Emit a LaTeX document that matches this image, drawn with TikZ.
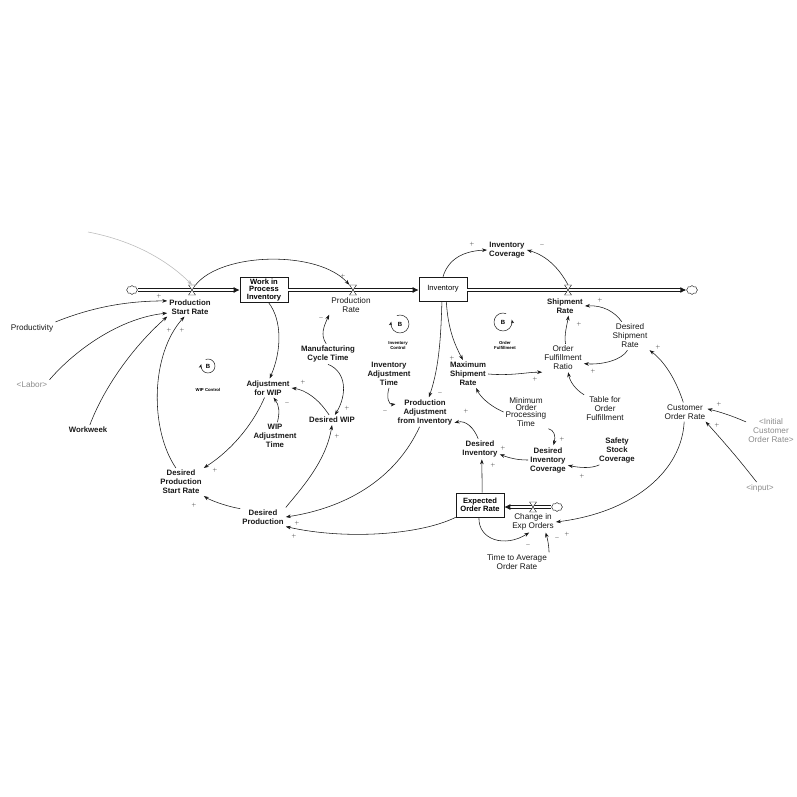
\documentclass[tikz,border=0pt]{standalone}
\usepackage{fontspec}
\setmainfont{Liberation Sans}
\usepackage{xcolor}
\usepackage{tikz}
\usetikzlibrary{arrows.meta,positioning,shapes.symbols}
\definecolor{ink}{RGB}{25,25,25}
\definecolor{shade}{RGB}{140,140,140}

\tikzset{
  var/.style={font=\bfseries\fontsize{7.8}{9}\selectfont,align=center,inner sep=2pt,text=ink},
  varn/.style={var,font=\fontsize{8.2}{9}\selectfont},
  ghost/.style={varn,text=shade},
  lvl/.style={draw=ink,line width=0.6pt,align=center,inner sep=1pt,minimum width=48pt,
    minimum height=24pt,font=\bfseries\fontsize{7.6}{7.8}\selectfont},
  lnk/.style={ink,line width=0.55pt,-{Stealth[length=5pt,width=3.6pt]}},
  pol/.style={font=\fontsize{5.5}{5.5}\selectfont,inner sep=0pt,text=ink},
  pipe/.style={ink,double=white,double distance=2pt,line width=0.9pt,-{Latex[length=6pt,width=6pt]}},
  vlv/.style={inner sep=0pt,minimum width=7pt,minimum height=10pt},
  puff/.style={cloud,cloud puffs=8,draw=ink,line width=0.4pt,minimum width=11pt,
    minimum height=9pt,inner sep=0pt},
  loopmark/.style={font=\bfseries\fontsize{6}{6}\selectfont,inner sep=0pt},
  looplbl/.style={font=\bfseries\fontsize{4.3}{5}\selectfont,align=center,inner sep=0pt},
  looparc/.style={ink,line width=0.5pt,-{Stealth[length=4pt,width=3pt]}},
  hourglass/.pic={\draw[ink,fill=white,line width=0.4pt] (-3.5pt,-5pt) -- (3.5pt,-5pt)
    -- (-3.5pt,5pt) -- (3.5pt,5pt) -- cycle;}
}

\begin{document}
\begin{tikzpicture}[x=1pt,y=-1pt]
  \useasboundingbox[fill=white] (0,0) rectangle (797,797);

  % stocks, flows
  \node[lvl] (wip) at (264,290) {Work in\\Process\\Inventory};
  \node[lvl,font=\fontsize{7.6}{8}\selectfont] (inv) at (443,289) {Inventory};
  \node[lvl] (eor) at (480,505) {Expected\\Order Rate};
  \node[puff] (c1) at (132,290) {};
  \node[puff] (c2) at (692,290) {};
  \node[puff] (c3) at (557,507) {};
  \node[vlv] (v1) at (192,290) {};
  \node[vlv] (v2) at (353,290) {};
  \node[vlv] (v3) at (568,290) {};
  \node[vlv] (v4) at (533,507) {};
  \draw[pipe] (c1.east) -- (wip.west);
  \draw[pipe] (wip.east) -- (inv.west |- wip.east);
  \draw[pipe] (inv.east |- c2.west) -- (c2.west);
  \draw[pipe] (c3.west) -- (eor.east |- c3.west);
  \foreach \v in {v1,v2,v3,v4} \pic at (\v) {hourglass};

  % auxiliaries
  \node[var] (psr) at (190,307) {Production\\Start Rate};
  \node[varn] (pr) at (351,305) {Production\\Rate};
  \node[var] (srate) at (565,306) {Shipment\\Rate};
  \node[var] (invcov) at (507,250) {Inventory\\Coverage};
  \node[varn] (dsr) at (630,336) {Desired\\Shipment\\Rate};
  \node[varn] (ofr) at (563,358) {Order\\Fulfillment\\Ratio};
  \node[var] (msr) at (468,374) {Maximum\\Shipment\\Rate};
  \node[varn] (tofr) at (605,409) {Table for\\Order\\Fulfillment};
  \node[varn] (cor) at (685,412) {Customer\\Order Rate};
  \node[ghost] (icor) at (771,431) {<Initial\\Customer\\Order Rate>};
  \node[ghost] (inp) at (760,488) {<input>};
  \node[varn,font=\fontsize{8.2}{7.2}\selectfont] (mopt) at (526,412) {Minimum\\Order\\Processing\\Time};
  \node[var] (dic) at (548,460) {Desired\\Inventory\\Coverage};
  \node[var] (ssc) at (617,450) {Safety\\Stock\\Coverage};
  \node[var] (dinv) at (480,449) {Desired\\Inventory};
  \node[varn] (ceo) at (533,522) {Change in\\Exp Orders};
  \node[varn] (taor) at (517,562) {Time to Average\\Order Rate};
  \node[var] (pafi) at (425,412) {Production\\Adjustment\\from Inventory};
  \node[var] (iat) at (389,374) {Inventory\\Adjustment\\Time};
  \node[var] (mct) at (328,354) {Manufacturing\\Cycle Time};
  \node[var] (dwip) at (332,420) {Desired WIP};
  \node[var] (adjwip) at (268,388) {Adjustment\\for WIP};
  \node[var] (wat) at (275,436) {WIP\\Adjustment\\Time};
  \node[var] (dpsr) at (181,482) {Desired\\Production\\Start Rate};
  \node[var] (dprod) at (263,517) {Desired\\Production};
  \node[varn] (prod) at (32,328) {Productivity};
  \node[ghost] (labor) at (32,385) {<Labor>};
  \node[var] (ww) at (88,430) {Workweek};
  \coordinate (fade) at (88,232);

  % links
  \draw[lnk,shade!60] (fade) .. controls (130,240) and (165,258) .. (v1.north);
  \draw[lnk] (prod.north east) .. controls (95,306) and (130,301) .. (psr.165);
  \draw[lnk] (labor.north east) .. controls (75,350) and (120,318) .. (psr.195);
  \draw[lnk] (ww.70) .. controls (105,385) and (135,345) .. (psr.south west);
  \draw[lnk] (dpsr.110) .. controls (150,430) and (150,355) .. (psr.240);
  \draw[lnk] (v1.north east) .. controls (222,252) and (318,250) .. (v2.north west);
  \draw[lnk] (wip.290) .. controls (282,320) and (282,350) .. (adjwip.80);
  \draw[lnk] (mct.100) .. controls (320,335) and (324,326) .. (pr.south west);
  \draw[lnk] (mct.south) .. controls (347,372) and (347,395) .. (dwip.60);
  \draw[lnk] (dwip.120) .. controls (318,398) and (305,390) .. (adjwip.east);
  \draw[lnk] (wat.80) .. controls (280,412) and (279,405) .. (adjwip.300);
  \draw[lnk] (adjwip.250) .. controls (255,420) and (235,448) .. (dpsr.north east);
  \draw[lnk] (dprod.160) .. controls (225,506) and (210,500) .. (dpsr.south east);
  \draw[lnk] (dprod.north east) .. controls (300,490) and (326,462) .. (dwip.south);
  \draw[lnk] (pafi.250) .. controls (395,480) and (345,508) .. (dprod.east);
  \draw[lnk] (eor.south west) .. controls (420,535) and (345,540) .. (dprod.south east);
  \draw[lnk] (inv.265) .. controls (441,330) and (440,365) .. (pafi.75);
  \draw[lnk] (inv.285) .. controls (448,330) and (455,345) .. (msr.110);
  \draw[lnk] (inv.north) .. controls (448,260) and (462,251) .. (invcov.west);
  \draw[lnk] (v3.north) .. controls (560,270) and (548,256) .. (invcov.east);
  \draw[lnk] (msr.east) .. controls (512,376) and (528,372) .. (ofr.south west);
  \draw[lnk] (ofr.80) .. controls (564,335) and (567,325) .. (srate.290);
  \draw[lnk] (dsr.120) .. controls (615,312) and (603,305) .. (srate.east);
  \draw[lnk] (dsr.260) .. controls (622,360) and (602,365) .. (ofr.345);
  \draw[lnk] (tofr.north west) .. controls (576,390) and (570,382) .. (ofr.290);
  \draw[lnk] (cor.100) .. controls (676,380) and (665,362) .. (dsr.south east);
  \draw[lnk] (icor.160) .. controls (730,415) and (720,412) .. (cor.8);
  \draw[lnk] (inp.120) .. controls (738,458) and (722,440) .. (cor.-25);
  \draw[lnk] (cor.265) .. controls (682,470) and (635,512) .. (ceo.east);
  \draw[lnk] (ssc.220) .. controls (595,467) and (586,469) .. (dic.345);
  \draw[lnk] (mopt.south east) .. controls (554,430) and (556,436) .. (dic.70);
  \draw[lnk] (mopt.west) .. controls (488,405) and (480,396) .. (msr.-60);
  \draw[lnk] (dic.west) .. controls (520,460) and (512,459) .. (dinv.-15);
  \draw[lnk] (dinv.100) .. controls (474,428) and (466,420) .. (pafi.-20);
  \draw[lnk] (eor.80) -- (dinv.-80);
  \draw[lnk] (iat.south) .. controls (386,398) and (389,405) .. (pafi.165);
  \draw[lnk] (eor.-95) .. controls (478,540) and (505,548) .. (ceo.250);
  \draw[lnk] (taor.north east) .. controls (549,548) and (548,540) .. (ceo.-40);

  % polarities
  \foreach \n/\p/\s in {1/{159,296}/+,2/{169,330}/+,3/{182,330}/+,4/{343,276}/+,
      5/{321,318}/-,6/{347,408}/+,7/{303,382}/+,8/{287,403}/-,9/{215,470}/+,
      10/{194,505}/+,11/{337,436}/+,12/{297,523}/+,13/{294,536}/+,14/{440,393}/-,
      15/{452,358}/+,16/{472,244}/+,17/{542,245}/-,18/{535,379}/+,19/{579,324}/+,
      20/{600,300}/+,21/{593,371}/+,22/{658,347}/+,23/{719,404}/+,24/{717,425}/+,
      25/{567,534}/+,26/{582,476}/+,27/{562,439}/+,28/{503,448}/+,29/{466,411}/+,
      30/{493,465}/+,31/{385,411}/-,32/{528,545}/-,33/{557,538}/-}
    \node[pol] (s\n) at (\p) {$\s$};

  % loops
  \node[loopmark] (lpw) at (208,366) {B};
  \draw[looparc] ([shift={(110:7pt)}]lpw.center) arc[start angle=110,end angle=-195,radius=7pt];
  \node[looplbl] (lpwt) at (208,390) {WIP Control};
  \node[loopmark] (lpi) at (400,324) {B};
  \draw[looparc] ([shift={(110:9pt)}]lpi.center) arc[start angle=110,end angle=-195,radius=9pt];
  \node[looplbl] (lpit) at (398,346) {Inventory\\Control};
  \node[loopmark] (lpo) at (503,322) {B};
  \draw[looparc] ([shift={(70:9pt)}]lpo.center) arc[start angle=70,end angle=375,radius=9pt];
  \node[looplbl] (lpot) at (505,345) {Order\\Fulfillment};
\end{tikzpicture}
\end{document}
